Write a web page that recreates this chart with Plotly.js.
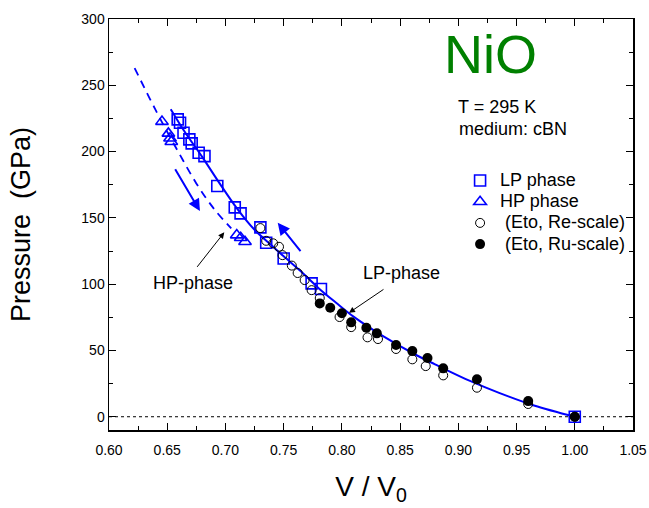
<!DOCTYPE html>
<html>
<head>
<meta charset="utf-8">
<script src="https://cdn.plot.ly/plotly-3.0.1.min.js"></script>
<style>html,body{margin:0;padding:0;background:#fff}#chart{width:649px;height:508px}</style>
</head>
<body>
<div id="chart"></div>
<script>
// LP phase (open squares)
const lpV = [0.659, 0.661, 0.664, 0.669, 0.671, 0.677, 0.682, 0.693, 0.708, 0.713, 0.730, 0.735, 0.750, 0.774, 0.782, 1.000];
const lpP = [224.3, 221.7, 214.2, 209.2, 206.2, 199.1, 196.6, 174.0, 157.9, 153.4, 142.8, 131.2, 119.3, 100.6, 96.3, 0];
// HP phase (open triangles)
const hpV = [0.6455, 0.651, 0.6524, 0.6535, 0.7097, 0.7131, 0.7168];
const hpP = [222.6, 213.7, 210.0, 207.4, 137.0, 135.0, 132.0];
// Eto, Re-scale (open circles)
const reV = [0.730, 0.735, 0.741, 0.746, 0.749, 0.757, 0.762, 0.768, 0.774, 0.781, 0.798, 0.808, 0.822, 0.831, 0.8465, 0.8605, 0.872, 0.887, 0.916, 0.960, 1.000];
const reP = [142.3, 132.7, 130.8, 128.2, 121.9, 114.0, 108.4, 103.1, 95.5, 89.5, 75.2, 67.6, 59.9, 58.6, 51.1, 43.3, 38.2, 31.2, 21.9, 9.6, 0];
// Eto, Ru-scale (filled circles)
const ruV = [0.781, 0.790, 0.800, 0.808, 0.821, 0.830, 0.8465, 0.8605, 0.8735, 0.887, 0.916, 0.960, 1.000];
const ruP = [85.5, 82.2, 78.0, 71.2, 67.1, 62.9, 54.1, 49.5, 44.3, 36.5, 28.2, 11.8, 0];
// LP fit curve (solid)
const fitV = [0.653, 0.665, 0.680, 0.695, 0.710, 0.725, 0.740, 0.750, 0.765, 0.780, 0.795, 0.810, 0.835, 0.865, 0.880, 0.910, 0.935, 0.965, 1.000];
const fitP = [232, 215, 196, 176, 157, 141, 129, 121, 109.5, 97, 86, 75.5, 61, 46, 39.5, 27, 18, 8.5, 0];
// HP fit curve (dashed)
const hpFitV = [0.622, 0.635, 0.645, 0.660, 0.675, 0.690, 0.705];
const hpFitP = [263, 240, 223, 199, 176, 157, 142];

const legendNames = ["LP phase", "HP phase", "\u00a0(Eto, Re-scale)", "\u00a0(Eto, Ru-scale)"];
const blue = "rgb(0,0,255)";
const font = "Liberation Sans, Arial, Helvetica, sans-serif";
const big = s => '<span style="font-size:18px">' + s + '</span>';

const traces = [
  {x: fitV, y: fitP, mode: "lines", line: {color: blue, width: 2, shape: "spline"}, showlegend: false, hoverinfo: "skip"},
  {x: hpFitV, y: hpFitP, mode: "lines", line: {color: blue, width: 1.8, dash: "8px,6px", shape: "spline"}, showlegend: false, hoverinfo: "skip"},
  {x: lpV, y: lpP, mode: "markers", name: big(legendNames[0]), marker: {symbol: "square-open", size: 11, color: blue, line: {width: 1.6, color: blue}}},
  {x: hpV, y: hpP, mode: "markers", name: big(legendNames[1]), marker: {symbol: "triangle-up-open", size: 11, color: blue, line: {width: 1.6, color: blue}}},
  {x: reV, y: reP, mode: "markers", name: big(legendNames[2]), marker: {symbol: "circle-open", size: 9, color: "black", line: {width: 1, color: "black"}}},
  {x: ruV, y: ruP, mode: "markers", name: big(legendNames[3]), marker: {symbol: "circle", size: 10, color: "black"}}
];

const arrows = [
  {x: 0.6781, y: 155.1, ax: 0.6561, ay: 187.8, color: blue, width: 2},
  {x: 0.7449, y: 146.3, ax: 0.7655, ay: 123.7, color: blue, width: 2},
  {x: 0.699, y: 139.1, ax: 0.6747, ay: 111.9, color: "black", width: 1},
  {x: 0.8061, y: 78.4, ax: 0.837, ay: 96.8, color: "black", width: 1}
];

const annotations = arrows.map(a => ({
  x: a.x, y: a.y, ax: a.ax, ay: a.ay, xref: "x", yref: "y", axref: "x", ayref: "y",
  showarrow: true, arrowhead: 2, arrowsize: 1.2, arrowwidth: a.width, arrowcolor: a.color, text: ""
}));
annotations.push(
  {x: 0.8514, y: 108.1, xref: "x", yref: "y", text: "LP-phase", showarrow: false, font: {family: font, size: 18, color: "black"}},
  {x: 0.6721, y: 100.8, xref: "x", yref: "y", text: "HP-phase", showarrow: false, font: {family: font, size: 18, color: "black"}},
  {x: 0.928, y: 273.5, xref: "x", yref: "y", text: "NiO", showarrow: false, font: {family: font, size: 54, color: "rgb(0,128,0)"}},
  {x: 0.9333, y: 234, xref: "x", yref: "y", text: "T = 295 K", showarrow: false, font: {family: font, size: 18, color: "black"}},
  {x: 0.947, y: 217, xref: "x", yref: "y", text: "medium: cBN", showarrow: false, font: {family: font, size: 18, color: "black"}}
);

const axisCommon = {
  showline: true, linecolor: "black", linewidth: 1.5, mirror: "ticks",
  ticks: "inside", ticklen: 7, tickwidth: 1.2, tickcolor: "black",
  showgrid: false, zeroline: false,
  tickfont: {family: font, size: 14, color: "black"}
};

const layout = {
  width: 649, height: 508,
  margin: {l: 109, r: 16, t: 19, b: 78},
  paper_bgcolor: "white", plot_bgcolor: "white",
  font: {family: font, color: "black"},
  xaxis: Object.assign({}, axisCommon, {
    range: [0.6, 1.05], dtick: 0.05, tick0: 0.6, tickformat: ".2f",
    ticklabelstandoff: 7,
    minor: {dtick: 0.025, ticks: "inside", ticklen: 4, tickcolor: "black", tickwidth: 1},
    title: {text: "V / V<sub>0</sub>", font: {family: font, size: 28}, standoff: 19}
  }),
  yaxis: Object.assign({}, axisCommon, {
    range: [-10, 300], dtick: 50, tick0: 0,
    minor: {dtick: 25, ticks: "inside", ticklen: 4, tickcolor: "black", tickwidth: 1},
    title: {text: "Pressure\u00a0 (GPa)", font: {family: font, size: 27}, standoff: 43}
  }),
  shapes: [
    {type: "line", xref: "paper", x0: 0, x1: 1, yref: "y", y0: 0, y1: 0, line: {color: "black", width: 1, dash: "dot"}, layer: "below"}
  ],
  annotations: annotations,
  legend: {x: 0.67, y: 0.645, xanchor: "left", yanchor: "top", bgcolor: "rgba(0,0,0,0)",
           font: {family: font, size: 14, color: "black"}, tracegroupgap: 0}
};

Plotly.newPlot("chart", traces, layout, {displayModeBar: false, staticPlot: true});
</script>
</body>
</html>
